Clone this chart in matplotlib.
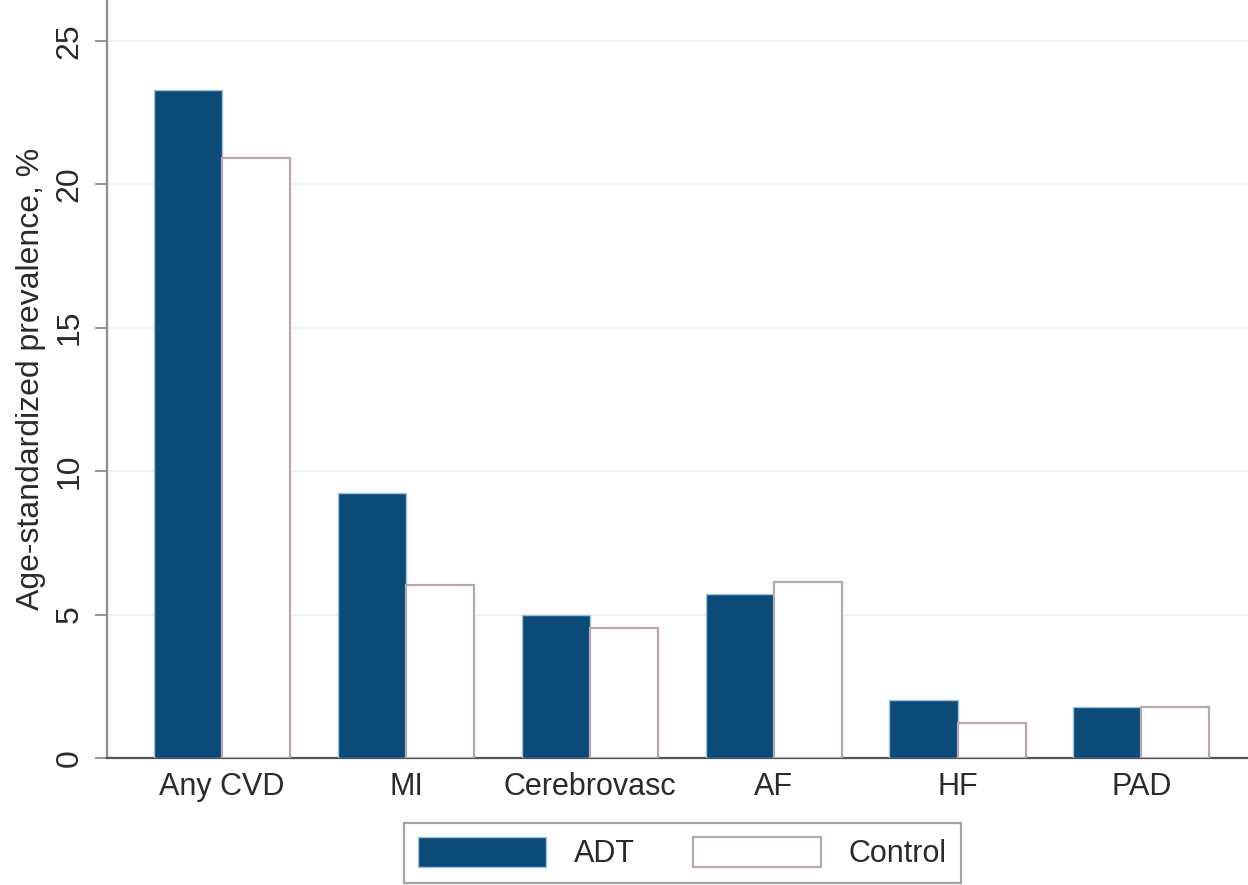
import matplotlib
matplotlib.use("Agg")
import matplotlib.pyplot as plt
import matplotlib.patches as mpatches
import numpy as np

# ---------------------------------------------------------------------------
# Datos
# ---------------------------------------------------------------------------

categories = ["Any CVD", "MI", "Cerebrovasc", "AF", "HF", "PAD"]
adt        = [23.28, 9.23, 4.98, 5.70, 2.02, 1.79]
control    = [20.90, 6.03, 4.52, 6.15, 1.23, 1.77]
series     = ["ADT", "Control"]
y_ticks    = [0, 5, 10, 15, 20, 25]

NAVY   = "#0c4a7a"
EDGE_C = "#b8a8ae"
TEXT_C = "#2a2a2a"

plt.rcParams["font.family"] = ["Liberation Sans", "DejaVu Sans"]

fig = plt.figure(figsize=(12.48, 8.85), dpi=100, facecolor="white")
ax = fig.add_axes([107 / 1248, 1 - 758 / 885, 1 - 107 / 1248, 758 / 885])

x = np.arange(len(categories))
w = 0.37
ax.bar(x - w / 2, adt, width=w, color=NAVY, edgecolor="#9ec3d8", linewidth=1.0, zorder=3)
ax.bar(x + w / 2, control, width=w, color="white", edgecolor=EDGE_C, linewidth=1.6, zorder=3)

ax.set_xlim(-0.626, 5.58)
ax.set_ylim(0, 26.42)
ax.set_yticks(y_ticks)
ax.set_yticklabels([str(t) for t in y_ticks])
ax.set_xticks(x)
ax.set_xticklabels(categories)

# rejilla muy tenue, estilo Stata
ax.grid(axis="y", color="#eef2f3", linewidth=1.5, zorder=0)
ax.set_axisbelow(True)

for side in ("top", "right"):
    ax.spines[side].set_visible(False)
ax.spines["left"].set_color("#8c8c8c")
ax.spines["left"].set_linewidth(1.6)
ax.spines["bottom"].set_color("#555555")
ax.spines["bottom"].set_linewidth(1.6)

ax.tick_params(axis="y", length=9, width=1.3, color="#8c8c8c", pad=7,
               labelsize=23, labelcolor=TEXT_C, labelrotation=90)
for lab in ax.get_yticklabels():
    lab.set_va("center")
ax.tick_params(axis="x", length=0, pad=10, labelsize=22, labelcolor=TEXT_C)

ax.set_ylabel("Age-standardized prevalence, %", fontsize=23, color=TEXT_C, labelpad=6)

handles = [
    mpatches.Patch(facecolor=NAVY, edgecolor="#9ec3d8", linewidth=1.0, label=series[0]),
    mpatches.Patch(facecolor="white", edgecolor=EDGE_C, linewidth=1.6, label=series[1]),
]
leg = fig.legend(handles=handles, loc="center", ncol=2,
                 bbox_to_anchor=(682.5 / 1248, 1 - 853 / 885),
                 fontsize=22, frameon=True, fancybox=False,
                 handlelength=4.2, handleheight=1.15, handletextpad=0.9,
                 columnspacing=1.9, borderpad=0.45)
leg.get_frame().set_edgecolor("#8c8c8c")
leg.get_frame().set_linewidth(1.6)
for t in leg.get_texts():
    t.set_color(TEXT_C)

fig.savefig("out.png", dpi=100, facecolor="white")
